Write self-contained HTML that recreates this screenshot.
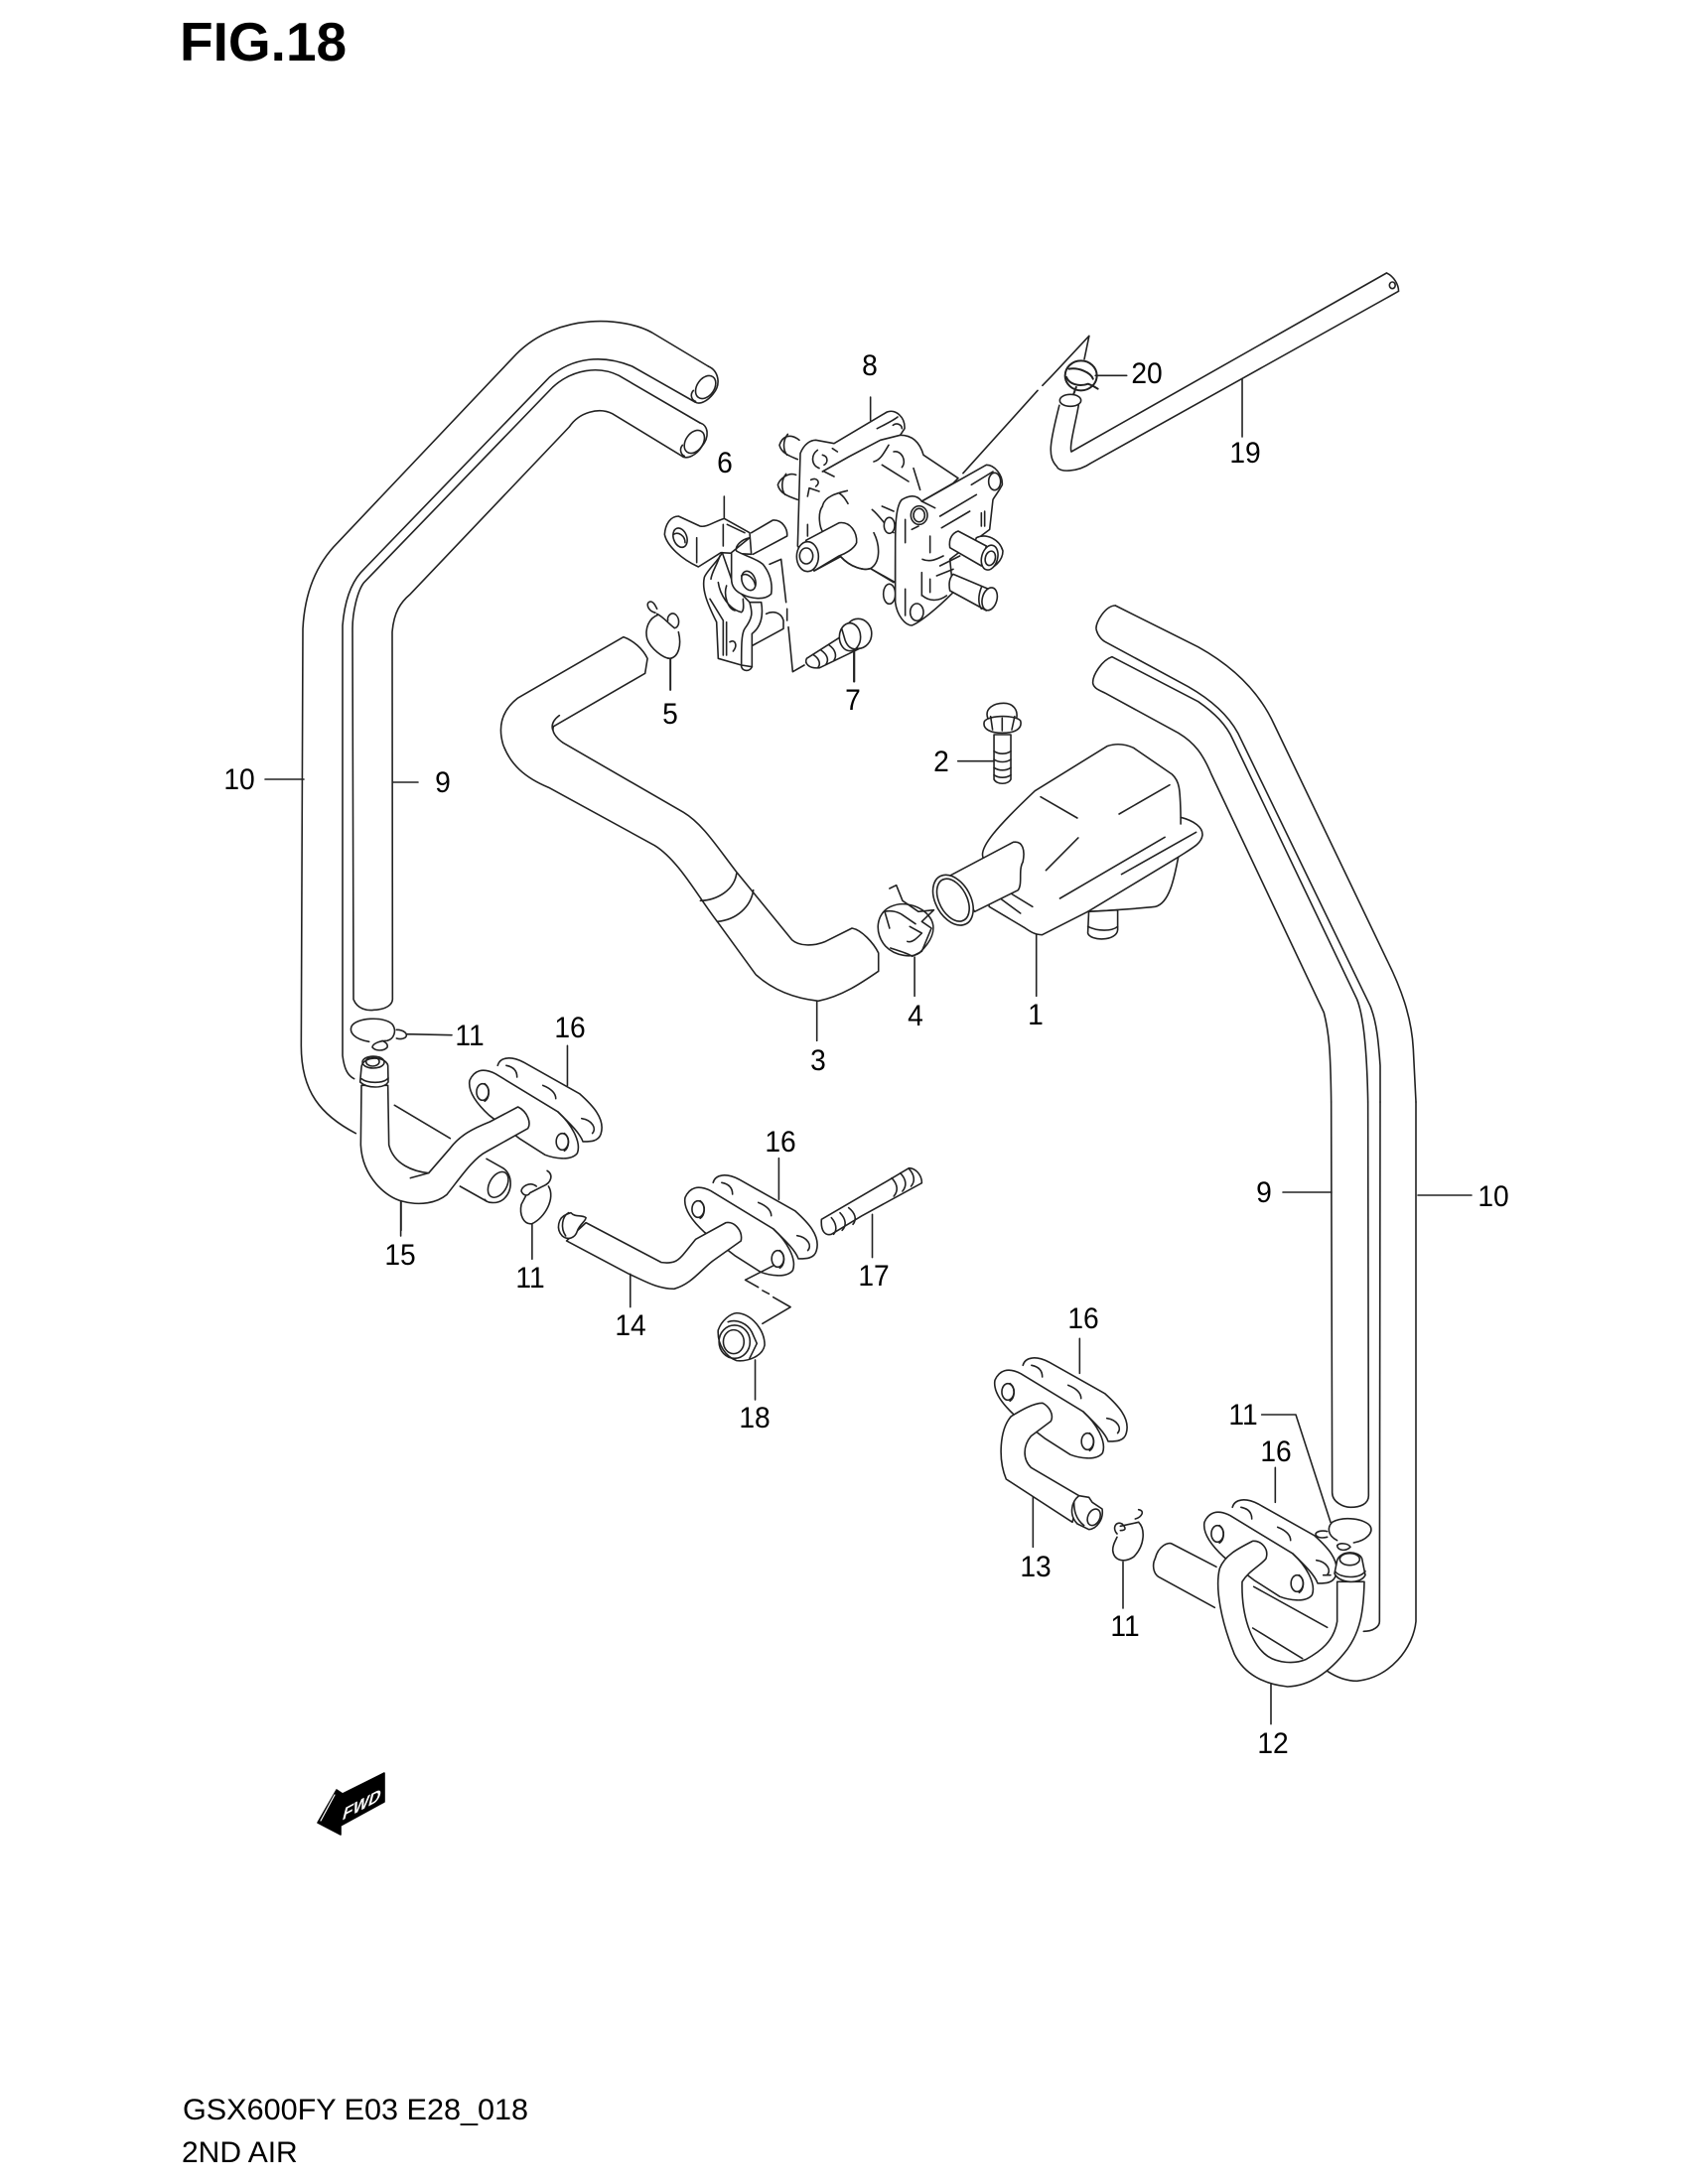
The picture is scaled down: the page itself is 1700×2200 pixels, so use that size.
<!DOCTYPE html>
<html><head><meta charset="utf-8"><style>
html,body{margin:0;padding:0;background:#fff}
svg{display:block}
path,ellipse,line{vector-effect:non-scaling-stroke;fill:none;stroke:#222;stroke-width:1.6;stroke-linejoin:round;stroke-linecap:round}
.w{fill:#fff}
text{font-family:"Liberation Sans",sans-serif;fill:#000}
.n{font-size:30px;text-anchor:middle}
</style></head><body>
<svg width="1700" height="2200" viewBox="0 0 1700 2200" xmlns="http://www.w3.org/2000/svg">
<rect width="1700" height="2200" fill="#fff"/>
<defs>
<g id="fl" transform="translate(280,950) scale(.4337,.3333)">
<path class="w" d="M510,370C515,345 540,340 570,360L700,455C730,490 760,530 750,575C745,600 725,600 710,600L600,500Z" style="stroke:none"/>
<path d="M510,370C515,345 540,340 570,360L700,455C730,490 760,530 750,575C745,600 725,600 710,600"/>
<path class="w" d="M490,520C465,490 440,450 445,415C455,385 475,375 505,395L650,510C680,545 705,600 695,635C680,660 640,650 620,640L560,590Z"/>
<path d="M650,510C665,530 700,570 708,600"/>
<path d="M530,370C550,375 555,390 555,405M615,430C635,440 645,455 645,470M705,530C730,535 740,560 730,575"/>
<ellipse cx="475" cy="450" rx="14" ry="25"/><path d="M480,425C495,440 490,470 480,478"/>
<ellipse cx="660" cy="600" rx="14" ry="25"/><path d="M665,575C680,590 675,620 665,628"/>
</g>
</defs>

<!-- left hoses -->
<g transform="translate(290,300) scale(.33333)">
<path d="M1270,207L1100,105C1020,60 820,40 690,170L150,740C80,810 50,900 45,1000L40,2260C40,2400 100,2470 205,2525"/>
<path d="M1230,315L1040,207C950,170 860,180 790,240L220,830C185,870 170,930 165,990L165,2290C170,2330 180,2350 200,2360"/>
<path d="M1270,207C1300,220 1310,260 1285,290C1270,310 1245,325 1230,315"/>
<ellipse cx="1262" cy="270" rx="26" ry="38" transform="rotate(35 1262 270)"/>
<path d="M1225,280C1212,295 1222,310 1232,313"/>
<path d="M1245,378L1000,235C940,205 860,215 800,270L230,860C210,885 195,950 195,1000L198,2120C210,2150 240,2155 260,2152C300,2150 315,2135 316,2120L315,1010C320,950 340,920 370,895L850,390C880,345 940,330 980,350L1190,478"/>
<path d="M1245,378C1270,385 1275,420 1250,450C1235,475 1205,490 1190,478"/>
<ellipse cx="1228" cy="435" rx="26" ry="38" transform="rotate(35 1228 435)"/>
<path d="M1192,445C1180,460 1190,475 1198,478"/>
</g>
<g transform="translate(290,960) scale(.33333)">
<path d="M322,460L490,560M600,622L650,650M520,705L600,750"/>
<path d="M650,650C680,670 680,720 650,745C630,760 600,755 595,745"/>
<ellipse cx="635" cy="700" rx="26" ry="42" transform="rotate(30 635 700)"/>
<path d="M245,268C200,260 185,240 192,222C205,195 290,190 315,215C330,235 320,260 300,265C275,265 255,275 255,285C265,297 290,297 300,285C303,275 295,270 285,265"/>
<path d="M328,232C350,232 365,245 355,255C345,262 335,260 328,258M360,245L495,248"/>
</g>
<use href="#fl"/>
<g transform="translate(290,960) scale(.33333)">
<path class="w" d="M222,400L220,580C225,680 300,740 345,750C400,765 450,755 480,730C520,680 560,620 600,600L725,530C735,515 725,480 695,465L610,510C560,530 520,550 490,590L425,665C380,660 320,640 305,580L302,400Z"/>
<path d="M425,665L370,680"/>
<path class="w" d="M222,345L218,390C240,410 290,410 303,390L302,340C295,310 225,310 222,345Z"/>
<ellipse cx="258" cy="330" rx="33" ry="18"/>
<ellipse cx="256" cy="328" rx="20" ry="14"/>
<path d="M222,380C240,395 290,395 303,378"/>
<path d="M342,750L342,838"/>
</g>

<!-- tube 14 flange 2 -->
<use href="#fl" transform="translate(217,118)"/>
<g transform="translate(280,950) scale(.4337,.3333)">
<path class="w" d="M715,845L890,965C920,970 930,960 945,935L970,895L1040,845C1060,840 1080,870 1075,900L1010,960C980,990 960,1030 920,1045C880,1045 850,1020 815,1000L670,900Z"/>
<path class="w" d="M670,820C650,830 645,865 660,885C675,900 690,890 695,870C700,850 715,840 715,830C705,820 690,830 680,815Z"/>
<path d="M675,815C660,825 655,860 668,885"/>
<path d="M1085,1018L1150,975M1085,1018L1115,1040M1125,1050L1140,1060M1150,1070L1190,1100L1125,1150"/>
<!-- ring -->
<path d="M628,735C645,770 620,830 590,848C570,852 560,820 565,790L575,765"/>
<path d="M600,735C585,720 565,735 565,750C570,765 580,765 585,755L615,735C635,725 640,700 625,688"/>
<path d="M590,850L590,955"/>
<!-- stud -->
<path class="w" d="M1262,835L1420,715L1465,680C1480,680 1495,700 1495,725L1355,825L1285,880C1270,885 1260,870 1262,835Z"/>
<path d="M1285,830C1295,845 1300,865 1290,880M1305,815C1320,835 1320,855 1310,868M1325,800C1340,815 1345,835 1335,850"/>
<path d="M1425,710C1440,730 1440,750 1430,765M1445,695C1460,715 1460,735 1450,750M1465,682C1478,700 1480,720 1470,735"/>
<path d="M1380,820L1380,950"/>
<!-- nut -->
<path class="w" d="M1065,1118C1100,1120 1130,1170 1130,1215C1125,1250 1090,1265 1065,1262C1040,1250 1020,1215 1022,1170C1030,1140 1050,1120 1065,1118Z"/>
<path d="M1045,1145C1065,1135 1090,1150 1100,1175L1112,1210L1095,1255"/>
<ellipse cx="1060" cy="1205" rx="36" ry="50"/>
<ellipse cx="1058" cy="1205" rx="24" ry="36"/>
<path d="M1108,1260L1108,1380M818,1000L818,1100M285,780L285,885M1163,650L1163,775M672,310L672,430"/>
</g>

<!-- hose 3, box 1, clamp, bolt 2 -->
<g transform="translate(480,620) scale(.4847,.33333)">
<path class="w" d="M305,65L85,250C50,290 45,340 55,390C70,450 100,490 150,520L370,695C420,740 460,850 500,925L580,1085C610,1125 650,1155 710,1165C760,1150 800,1110 835,1075L835,1020C825,990 800,950 780,945L725,985C700,1000 670,1000 655,980L540,775C500,700 470,630 430,595L180,385C165,370 155,350 160,335L350,175L355,130C345,100 325,75 305,65Z"/>
<path d="M540,780C535,830 500,860 465,862M575,830C570,880 540,920 500,925M172,302C160,315 155,330 158,345"/>
<path d="M707,1165L707,1285M403,130L403,225"/>
<!-- box -->
<path class="w" d="M1160,530L1310,395C1330,385 1350,390 1365,400L1445,480C1460,500 1462,520 1463,610C1490,620 1510,640 1508,665C1505,690 1490,700 1458,730C1450,790 1440,870 1410,880C1380,885 1330,890 1270,895L1175,965C1160,965 1150,955 1140,945L1065,880L1052,730C1045,700 1080,640 1160,530Z"/>
<path d="M1463,610L1463,630M1458,730L1270,895M1172,548L1248,612M1335,600L1440,512M1250,672L1183,770M1430,670L1212,855M1495,655L1340,782M1110,840L1155,880M1088,855L1130,900"/>
<path class="w" d="M1272,895L1270,960C1275,985 1330,985 1332,950L1332,890Z"/>
<path d="M1270,940C1290,955 1320,955 1332,940"/>
<path class="w" d="M1115,685C1135,680 1140,710 1135,745C1125,770 1135,810 1125,830L1035,895L985,785Z"/>
<ellipse class="w" cx="990" cy="860" rx="38" ry="78" transform="rotate(-15 990 860)"/>
<ellipse cx="990" cy="860" rx="30" ry="66" transform="rotate(-15 990 860)"/>
<path d="M1163,965L1163,1150"/>
<!-- clamp 4 -->
<path d="M860,880C830,900 825,960 850,1000C870,1030 905,1035 920,1020C945,985 955,950 945,920C930,880 890,860 860,880Z"/>
<path d="M858,825L872,815L885,862L918,895L950,890L925,925L945,945L925,1015L905,1030M848,895C860,890 875,895 885,905L912,932M848,895L858,945M900,940L925,960M860,1005C880,1015 895,1020 905,1030M895,985C905,990 915,975 925,960"/>
<path d="M910,1032L910,1150"/>
<!-- bolt 2 -->
<path d="M1062,310C1055,280 1075,265 1095,265C1115,265 1125,285 1122,310"/>
<path class="w" d="M1055,320C1050,345 1070,355 1092,355C1115,355 1135,345 1130,318C1120,300 1065,300 1055,320Z"/>
<path d="M1068,305L1072,345M1118,305L1112,345M1092,310L1092,348"/>
<path class="w" d="M1075,360L1075,495C1080,512 1105,512 1110,495L1110,360Z"/>
<path d="M1075,410C1085,420 1100,420 1110,410M1075,435C1085,445 1100,445 1110,435M1075,460C1085,470 1100,470 1110,460M1075,482C1085,492 1100,492 1110,482M1000,440L1075,440M785,105L785,200"/>
</g>

<!-- right hoses -->
<g transform="translate(1080,590) scale(.33333)">
<path d="M130,60L380,185C470,235 560,310 610,420L950,1130C990,1210 1025,1300 1030,1400L1038,1560"/>
<path d="M130,60C100,60 70,110 72,130C75,150 90,165 100,170L350,305C420,345 470,390 500,445L900,1270C920,1320 925,1380 930,1450L930,1560"/>
<path d="M120,215C90,225 60,270 62,295C65,310 80,315 100,325L320,445C370,475 395,510 420,570L760,1290C775,1350 780,1400 782,1560"/>
<path d="M120,215L380,350C430,385 465,420 485,465L860,1250C880,1300 890,1400 893,1560"/>
</g>
<g transform="translate(950,1300) scale(.33333)">
<path d="M1172,-570L1175,610C1175,640 1210,655 1230,655C1260,655 1285,645 1285,620L1283,-570"/>
<path d="M1320,-570L1318,1000C1318,1015 1300,1030 1270,1030"/>
<path d="M1428,-570L1428,1000C1420,1080 1350,1170 1250,1180C1220,1180 1190,1170 1160,1150"/>
<path d="M640,810C650,770 680,760 690,765L825,835M640,810C630,830 635,855 650,865L820,958"/>
</g>

<use href="#fl" transform="translate(529,302)"/>
<use href="#fl" transform="translate(740,445)"/>

<g transform="translate(950,1300) scale(.33333)">
<!-- tube 13 -->
<path class="w" d="M300,340C320,350 335,375 325,395L265,440C240,470 240,510 265,535L410,620L390,700L190,570C165,510 170,420 205,380C230,365 270,340 300,340Z"/>
<path class="w" d="M410,620C385,640 380,680 405,705L440,722C465,720 485,690 480,660L450,640L440,625Z"/>
<path d="M395,640C395,665 400,690 425,710"/>
<ellipse cx="455" cy="685" rx="18" ry="26" transform="rotate(25 455 685)"/>
<path d="M271,625L271,775M412,145L412,250M1003,535L1003,640"/>
<!-- ring lower -->
<path d="M590,700C610,720 610,770 575,805C545,825 515,815 512,785C512,770 518,760 525,745"/>
<path d="M525,735C510,720 520,695 540,705C555,720 550,725 535,725M535,712L590,700M580,690C600,685 610,665 590,662"/>
<path d="M543,820L543,960"/>
<!-- tube 12 -->
<path d="M938,895L1160,1018M935,1020L1085,1112"/>
<path class="w" d="M1190,880L1190,1000C1180,1060 1140,1090 1095,1115C1060,1130 1010,1125 980,1105C930,1070 900,980 903,880C925,845 960,830 975,810C985,780 960,755 935,757C890,780 850,800 835,840C820,900 840,1000 880,1100C910,1160 970,1190 1040,1197C1110,1195 1170,1150 1220,1085C1260,1030 1270,970 1272,880Z"/>
<path class="w" d="M1190,815L1182,855C1195,885 1260,890 1275,860L1265,810C1255,785 1200,785 1190,815Z"/>
<ellipse cx="1228" cy="812" rx="30" ry="18"/>
<path d="M1185,850C1200,870 1260,872 1275,848M1148,860L1170,860"/>
<!-- ring upper -->
<path d="M1240,762C1280,755 1300,730 1290,712C1275,690 1210,680 1175,700C1160,715 1160,740 1190,755"/>
<path d="M1160,745C1140,750 1125,745 1125,735C1130,725 1150,725 1160,728M1190,770C1200,760 1225,765 1230,775C1215,790 1190,785 1190,770"/>
<path d="M962,375L1065,375L1170,700M990,1190L990,1310"/>
</g>

<!-- valve 8 -->
<g transform="translate(780,400) scale(.33333)">
<path d="M290,0L290,70"/>
<path d="M75,130C50,110 25,115 15,145C20,170 50,180 70,188M40,112C25,130 25,160 38,175M65,235C40,225 15,250 10,265C15,290 40,300 70,310M35,232C20,250 20,280 32,295"/>
<path class="w" d="M180,140L340,45C365,35 395,60 393,95L380,115C420,115 440,140 450,175L555,245L540,260L445,315L385,310C365,330 365,400 365,560L290,518C270,525 230,515 200,482L120,525L70,450L78,170C90,140 110,130 125,130Z"/>
<path d="M380,115L320,130L225,180L145,225M130,160C110,175 110,205 135,215M145,175C165,180 160,200 150,205M175,155L190,165M150,225L180,240M310,95C330,85 360,70 372,60M358,85C370,75 385,85 385,95"/>
<path d="M100,300L105,275L135,285M110,250C130,240 140,260 125,270M145,330C150,300 190,290 220,283M195,290C210,300 215,310 222,322M145,330C130,350 135,395 148,410"/>
<path d="M345,145C330,170 320,190 300,195M360,165C385,160 400,195 385,212M325,205L405,255M420,215L440,280M100,385L100,420"/>
<path class="w" d="M95,433L195,380C230,375 250,410 248,440C240,460 210,475 195,480L120,525Z"/>
<ellipse class="w" cx="100" cy="482" rx="33" ry="45"/>
<ellipse cx="96" cy="480" rx="20" ry="24"/>
<path d="M200,482C230,515 270,525 290,518C320,500 320,450 300,410M290,518L360,560M295,340C320,360 335,390 360,410M325,330L360,345"/>
<ellipse class="w" cx="347" cy="388" rx="16" ry="24"/>
<ellipse class="w" cx="347" cy="595" rx="18" ry="30"/>
<path class="w" d="M385,310C365,330 365,400 365,450L365,620C370,660 395,690 415,690C440,680 490,640 540,590L530,490L650,400L660,310C665,300 675,290 688,265C690,235 665,205 640,205L445,315C430,295 410,295 385,310Z"/>
<path class="w" d="M610,425C640,410 680,430 690,465C690,495 660,520 640,520L590,480Z"/>
<path class="w" d="M555,405L640,450L625,510L530,455C525,425 540,410 555,405Z"/>
<ellipse class="w" cx="650" cy="485" rx="24" ry="38" transform="rotate(15 650 485)"/>
<ellipse cx="652" cy="487" rx="15" ry="22" transform="rotate(15 652 487)"/>
<path class="w" d="M540,535L670,590L640,645L530,585C525,560 530,545 540,535Z"/>
<ellipse class="w" cx="650" cy="610" rx="22" ry="35" transform="rotate(15 650 610)"/>
<path d="M625,575C615,600 615,625 625,640"/>
<path d="M500,360L610,295M505,395L590,345M625,350L625,390M635,345L635,390M470,420L470,470M445,530L445,600M395,580L395,660M470,550L470,590M500,510L560,480M490,540L540,520M447,600C470,620 500,615 520,600M415,400L435,390M595,265L660,225M395,370L395,440M447,490C470,500 490,490 510,480M445,315L485,335"/>
<ellipse cx="437" cy="357" rx="25" ry="28"/>
<ellipse cx="437" cy="357" rx="17" ry="20"/>
<ellipse cx="430" cy="650" rx="20" ry="26"/>
<ellipse cx="665" cy="255" rx="18" ry="26"/>
</g>

<!-- bracket 6, ring 5 -->
<g transform="translate(640,500) scale(.33333)">
<path d="M268,0L268,67M350,110L415,72C445,70 460,100 458,120L355,175"/>
<path class="w" d="M88,115C90,85 105,60 130,60L195,90C215,95 240,75 268,67L345,110L350,175L258,170L190,213C140,190 95,150 88,115Z"/>
<path d="M185,125L185,200M265,85L265,150M277,85L330,110"/>
<ellipse cx="135" cy="125" rx="20" ry="30" transform="rotate(-20 135 125)"/>
<path d="M115,115C130,105 150,120 150,140"/>
<path d="M395,355C415,345 440,350 447,375L447,400L355,450"/>
<path class="w" d="M262,170C250,195 215,225 208,245C200,280 215,320 245,380L250,490L320,510L352,515L352,415C385,390 385,350 380,320L345,320L320,295L290,250Z"/>
<path d="M255,180C245,210 230,230 228,250M250,260C255,295 280,340 320,350C330,345 325,320 325,310M275,270C265,300 280,340 300,345M225,310L265,375L265,480M275,380L275,480"/>
<path d="M345,320C350,345 360,360 330,400C320,415 320,450 320,515C325,530 345,530 352,515M285,440C300,430 310,450 295,468"/>
<path class="w" d="M345,125C320,130 300,150 305,165C330,180 360,185 385,205C405,230 415,260 410,295C390,315 350,310 320,295C300,285 290,270 290,250L290,170Z"/>
<ellipse cx="342" cy="255" rx="20" ry="30" transform="rotate(-20 342 255)"/>
<path d="M320,240C335,228 358,245 362,270"/>
<path d="M405,205L440,190L455,320M458,340L458,375M462,395L475,530L510,510"/>
<!-- ring 5 -->
<path d="M68,358C40,368 28,400 35,430C45,460 85,490 105,490C130,485 140,450 130,410"/>
<path d="M60,352C35,345 30,320 45,318C55,318 60,330 65,340M65,355C85,365 100,385 118,398C135,395 135,365 118,355C105,350 95,365 98,375"/>
<path d="M105,490L105,585"/>
</g>

<!-- bolt 7, hose 19, clamp 20 -->
<g transform="translate(650,250) scale(.4847,.33333)">
<path class="w" d="M335,1240L405,1175L445,1210L362,1268C340,1272 330,1255 335,1240Z"/>
<path d="M348,1228C362,1240 365,1258 358,1268M365,1215C378,1228 382,1245 375,1258M382,1200C395,1213 398,1232 392,1245"/>
<ellipse class="w" cx="442" cy="1165" rx="28" ry="45"/>
<ellipse class="w" cx="425" cy="1175" rx="22" ry="42"/>
<path d="M408,1150L415,1185C420,1205 430,1215 440,1210M433,1215L433,1310"/>
<path d="M1540,75L885,615C880,600 895,520 900,475M1565,130L925,650C900,675 860,680 855,660C835,630 840,590 860,475M1540,75C1555,85 1565,110 1565,130"/>
<ellipse cx="1552" cy="112" rx="6" ry="10"/>
<ellipse cx="883" cy="460" rx="22" ry="18"/>
<path d="M1240,395L1240,570M660,680L815,430M825,415L845,385L922,265L912,335M935,385L1000,385"/>
<ellipse cx="905" cy="385" rx="33" ry="45" style="stroke-width:2"/>
<path d="M880,365C900,360 925,375 930,395M875,390C880,410 900,420 920,410C930,415 935,420 940,425M895,420L890,440" style="stroke-width:2"/>
</g>

<!-- direct leaders -->
<path d="M267,785L306,785M396,788L421,788M1292,1201L1341,1201M1428,1204L1482,1204"/>

<!-- FWD -->
<path d="M339,1803L320,1836L343,1848L343,1839L387,1815L387,1786L345,1807Z" style="fill:#000;stroke:#000"/>
<path d="M337,1808L323,1834" style="stroke:#fff;stroke-width:1.2"/>
<text transform="matrix(.88,-.47,-.24,.97,344,1834)" font-size="19" font-weight="bold" style="fill:#fff">FWD</text>

<!-- labels -->
<g>
<text class="n" transform="translate(241,795) scale(.94,1)">10</text>
<text class="n" transform="translate(446,798) scale(.94,1)">9</text>
<text class="n" transform="translate(876,378) scale(.94,1)">8</text>
<text class="n" transform="translate(730,476) scale(.94,1)">6</text>
<text class="n" transform="translate(675,729) scale(.94,1)">5</text>
<text class="n" transform="translate(859,715) scale(.94,1)">7</text>
<text class="n" transform="translate(948,777) scale(.94,1)">2</text>
<text class="n" transform="translate(1043,1032) scale(.94,1)">1</text>
<text class="n" transform="translate(824,1078) scale(.94,1)">3</text>
<text class="n" transform="translate(922,1033) scale(.94,1)">4</text>
<text class="n" transform="translate(1155,386) scale(.94,1)">20</text>
<text class="n" transform="translate(1254,466) scale(.94,1)">19</text>
<text class="n" transform="translate(473,1053) scale(.94,1)">11</text>
<text class="n" transform="translate(574,1045) scale(.94,1)">16</text>
<text class="n" transform="translate(403,1274) scale(.94,1)">15</text>
<text class="n" transform="translate(534,1297) scale(.94,1)">11</text>
<text class="n" transform="translate(786,1160) scale(.94,1)">16</text>
<text class="n" transform="translate(635,1345) scale(.94,1)">14</text>
<text class="n" transform="translate(880,1295) scale(.94,1)">17</text>
<text class="n" transform="translate(760,1438) scale(.94,1)">18</text>
<text class="n" transform="translate(1273,1211) scale(.94,1)">9</text>
<text class="n" transform="translate(1504,1215) scale(.94,1)">10</text>
<text class="n" transform="translate(1091,1338) scale(.94,1)">16</text>
<text class="n" transform="translate(1252,1435) scale(.94,1)">11</text>
<text class="n" transform="translate(1285,1472) scale(.94,1)">16</text>
<text class="n" transform="translate(1043,1588) scale(.94,1)">13</text>
<text class="n" transform="translate(1133,1648) scale(.94,1)">11</text>
<text class="n" transform="translate(1282,1766) scale(.94,1)">12</text>
</g>
<text x="181" y="61" font-size="55" font-weight="bold">FIG.18</text>
<text x="184" y="2135" font-size="30" textLength="348" lengthAdjust="spacingAndGlyphs">GSX600FY E03 E28_018</text>
<text x="183" y="2178" font-size="30">2ND AIR</text>
</svg>
</body></html>
